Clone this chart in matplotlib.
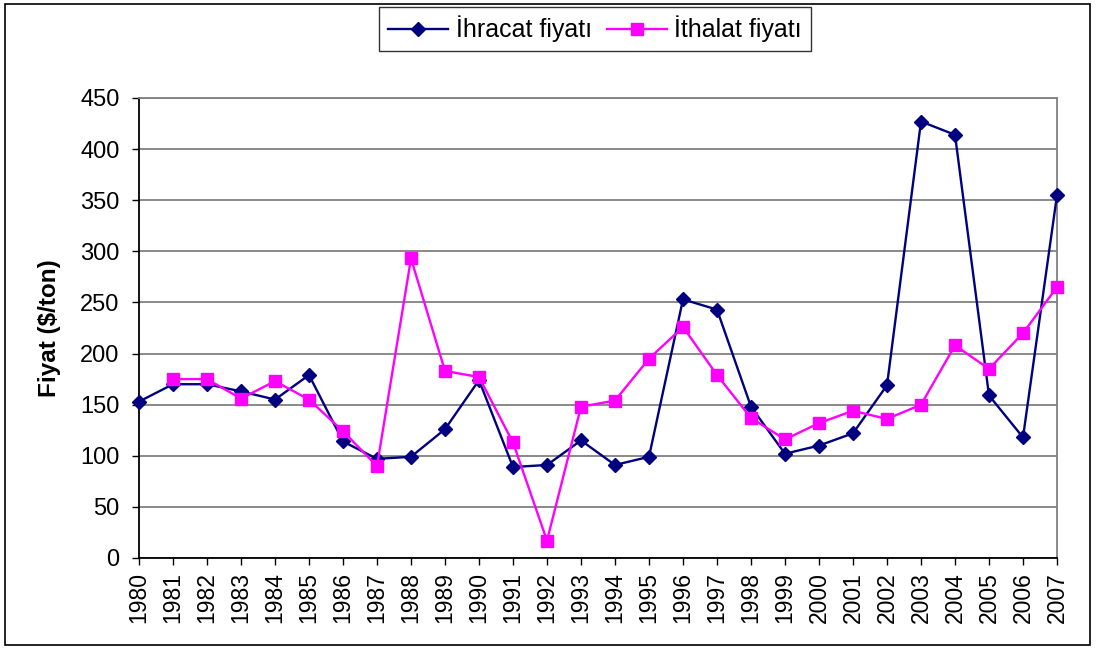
import matplotlib
matplotlib.use("Agg")
import matplotlib.pyplot as plt
from matplotlib.patches import Rectangle
import numpy as np

plt.rcParams['font.family'] = ['Liberation Sans', 'DejaVu Sans']

years = [str(y) for y in range(1980, 2008)]
ihracat = [153, 170, 170, 163, 155, 179, 114, 97, 99, 126, 174, 89, 91, 115,
           91, 99, 253, 243, 148, 102, 110, 122, 169, 427, 414, 159, 118, 355]
ithalat = [np.nan, 175, 175, 156, 173, 155, 124, 90, 293, 183, 177, 113, 17, 148,
           154, 195, 226, 179, 137, 116, 132, 144, 136, 150, 208, 185, 220, 265]
yticks = [0, 50, 100, 150, 200, 250, 300, 350, 400, 450]

fig = plt.figure(figsize=(10.97, 6.5), dpi=100)
ax = fig.add_axes([139/1097, 92/650, 918/1097, 460/650])

x = np.arange(len(years))
ax.plot(x, ihracat, color='#000080', lw=1.7, marker='D', markersize=7.5,
        markerfacecolor='#000080', markeredgecolor='#000080', label='İhracat fiyatı',
        zorder=3, clip_on=False)
ax.plot(x, ithalat, color='#FF00FF', lw=1.7, marker='s', markersize=9,
        markerfacecolor='#FF00FF', markeredgecolor='#FF00FF', label='İthalat fiyatı',
        zorder=4, clip_on=False)

ax.set_xlim(0, len(years) - 1)
ax.set_ylim(0, 450)
ax.set_yticks(yticks)
ax.tick_params(axis='y', labelsize=17, direction='out', length=5, width=1, pad=9)
ax.set_xticks(x)
ax.set_xticklabels(years, rotation=90)
ax.tick_params(axis='x', labelsize=16.5, direction='out', length=5, width=1, pad=5)
ax.yaxis.grid(True, color='#808080', lw=1.3)
ax.set_axisbelow(True)
ax.set_ylabel('Fiyat ($/ton)', fontsize=17.5, fontweight='bold', labelpad=14)

for s in ['left', 'bottom']:
    ax.spines[s].set_color('black')
    ax.spines[s].set_linewidth(1.3)
for s in ['top', 'right']:
    ax.spines[s].set_color('#808080')
    ax.spines[s].set_linewidth(1.3)

leg = ax.legend(loc='center', bbox_to_anchor=(595/1097, 1 - 29/650),
                bbox_transform=fig.transFigure, ncol=2, fontsize=18,
                frameon=True, fancybox=False, edgecolor='black',
                handlelength=2.4, columnspacing=0.6, handletextpad=0.3,
                borderpad=0.35, markerscale=0.9)
leg.get_frame().set_linewidth(1.0)

fig.patches.append(Rectangle((5/1097, 5/650), 1085/1097, 641/650, transform=fig.transFigure,
                             fill=False, edgecolor='black', lw=1.2))

fig.savefig('out.png', dpi=100)
